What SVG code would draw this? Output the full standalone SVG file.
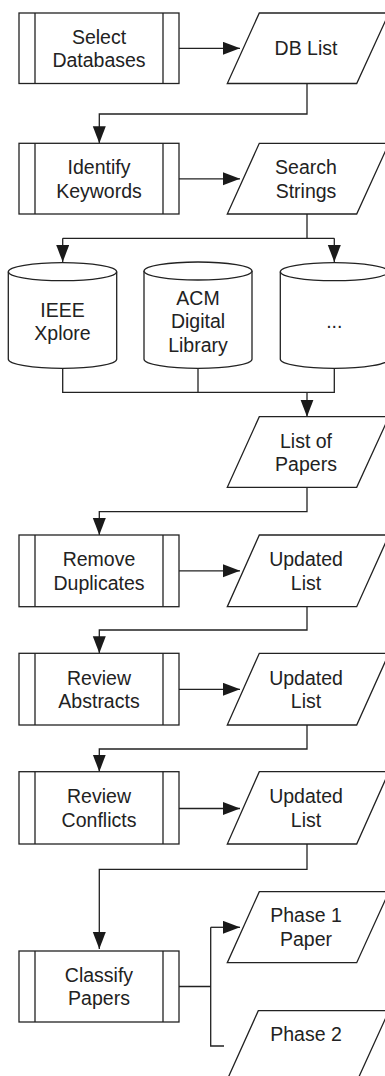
<svg xmlns="http://www.w3.org/2000/svg" width="385" height="1076" viewBox="0 0 385 1076">
<defs>
<marker id="ah" markerUnits="userSpaceOnUse" markerWidth="18" markerHeight="14" refX="17" refY="6.5" orient="auto"><path d="M0,0 L17,6.5 L0,13 z" fill="#1a1a1a"/></marker>
<style>
.s{fill:#fff;stroke:#222;stroke-width:1.3}
.l{fill:none;stroke:#222;stroke-width:1.3}
.c{fill:none;stroke:#222;stroke-width:1.3}
.a{marker-end:url(#ah)}
text{font-family:"Liberation Sans",Arial,sans-serif;font-size:19.5px;fill:#222;text-anchor:middle}
</style>
</defs>
<rect width="385" height="1076" fill="#fff"/>
<g id="connectors">
<path class="c a" d="M179,48.3 H240"/>
<path class="c a" d="M307,83.5 V114 H99.3 V143.3"/>
<path class="c a" d="M179,178.8 H240"/>
<path class="c" d="M307,214 V238.3 M62.7,238.3 H334.3"/>
<path class="c a" d="M62.7,238.3 V262"/>
<path class="c a" d="M334.3,238.3 V262"/>
<path class="c" d="M62.7,368 V392.3 H334.3 V368 M198,368 V392.3"/>
<path class="c a" d="M307,392.3 V416.7"/>
<path class="c a" d="M307,487.3 V511.7 H99.3 V535"/>
<path class="c a" d="M179,570.8 H240"/>
<path class="c a" d="M307,606.7 V630 H99.3 V653.3"/>
<path class="c a" d="M179,689.3 H240"/>
<path class="c a" d="M307,725 V749 H99.3 V771.7"/>
<path class="c a" d="M179,808.5 H240"/>
<path class="c a" d="M307,844 V869.3 H99.3 V949"/>
<path class="c" d="M179,986.5 H210.7 M210.7,927.3 V1046 H224"/>
<path class="c a" d="M210.7,927.3 H240"/>
</g>
<g id="select-databases">
<rect class="s" x="19" y="13" width="160" height="70.5"/>
<path class="l" d="M35,13 V83.5 M163,13 V83.5"/>
<text x="99" y="43.5">Select</text><text x="99" y="66.8">Databases</text>
</g>
<g id="db-list">
<polygon class="s" points="259.3,13 389,13 356.7,83.5 227.3,83.5"/>
<text x="306" y="55">DB List</text>
</g>
<g id="identify-keywords">
<rect class="s" x="19" y="143.3" width="160" height="70.7"/>
<path class="l" d="M35,143.3 V214 M163,143.3 V214"/>
<text x="99" y="174.3">Identify</text><text x="99" y="197.6">Keywords</text>
</g>
<g id="search-strings">
<polygon class="s" points="259.3,143.3 389,143.3 356.7,214 227.3,214"/>
<text x="306" y="174.3">Search</text><text x="306" y="197.6">Strings</text>
</g>
<g id="ieee-xplore">
<path class="s" d="M8.3,271.7 V359.3 A54.2,9 0 0 0 116.7,359.3 V271.7"/>
<ellipse class="s" cx="62.5" cy="271.7" rx="54.2" ry="9"/>
<text x="62.5" y="316.7">IEEE</text><text x="62.5" y="340">Xplore</text>
</g>
<g id="acm-digital-library">
<path class="s" d="M144,271 V359.3 A54,9 0 0 0 252,359.3 V271"/>
<ellipse class="s" cx="198" cy="271" rx="54" ry="9"/>
<text x="198" y="305">ACM</text><text x="198" y="328.3">Digital</text><text x="198" y="351.7">Library</text>
</g>
<g id="other-db">
<path class="s" d="M280.3,271.7 V359.3 A54,9 0 0 0 388.3,359.3 V271.7"/>
<ellipse class="s" cx="334.3" cy="271.7" rx="54" ry="9"/>
<text x="334.3" y="328">...</text>
</g>
<g id="list-of-papers">
<polygon class="s" points="259.3,416.7 389,416.7 356.7,487.3 227.3,487.3"/>
<text x="306" y="447.5">List of</text><text x="306" y="470.8">Papers</text>
</g>
<g id="remove-duplicates">
<rect class="s" x="19" y="535" width="160" height="71.7"/>
<path class="l" d="M35,535 V606.7 M163,535 V606.7"/>
<text x="99" y="566.3">Remove</text><text x="99" y="589.6">Duplicates</text>
</g>
<g id="updated-list-1">
<polygon class="s" points="259.3,535 389,535 356.7,606.7 227.3,606.7"/>
<text x="306" y="566.3">Updated</text><text x="306" y="589.6">List</text>
</g>
<g id="review-abstracts">
<rect class="s" x="19" y="653.3" width="160" height="71.7"/>
<path class="l" d="M35,653.3 V725 M163,653.3 V725"/>
<text x="99" y="685">Review</text><text x="99" y="708.3">Abstracts</text>
</g>
<g id="updated-list-2">
<polygon class="s" points="259.3,653.3 389,653.3 356.7,725 227.3,725"/>
<text x="306" y="685">Updated</text><text x="306" y="708.3">List</text>
</g>
<g id="review-conflicts">
<rect class="s" x="19" y="771.7" width="160" height="72.3"/>
<path class="l" d="M35,771.7 V844 M163,771.7 V844"/>
<text x="99" y="803.3">Review</text><text x="99" y="826.6">Conflicts</text>
</g>
<g id="updated-list-3">
<polygon class="s" points="259.3,771.7 389,771.7 356.7,844 227.3,844"/>
<text x="306" y="803.3">Updated</text><text x="306" y="826.6">List</text>
</g>
<g id="classify-papers">
<rect class="s" x="19" y="951" width="160" height="71"/>
<path class="l" d="M35,951 V1022 M163,951 V1022"/>
<text x="99" y="982">Classify</text><text x="99" y="1005.3">Papers</text>
</g>
<g id="phase-1-paper">
<polygon class="s" points="259.3,891.7 389,891.7 356.7,962.7 227.3,962.7"/>
<text x="306" y="921.7">Phase 1</text><text x="306" y="945.5">Paper</text>
</g>
<g id="phase-2">
<polygon class="s" points="258.3,1010.7 389,1010.7 356.7,1081.7 226.3,1081.7"/>
<text x="306" y="1041">Phase 2</text>
</g>
</svg>
